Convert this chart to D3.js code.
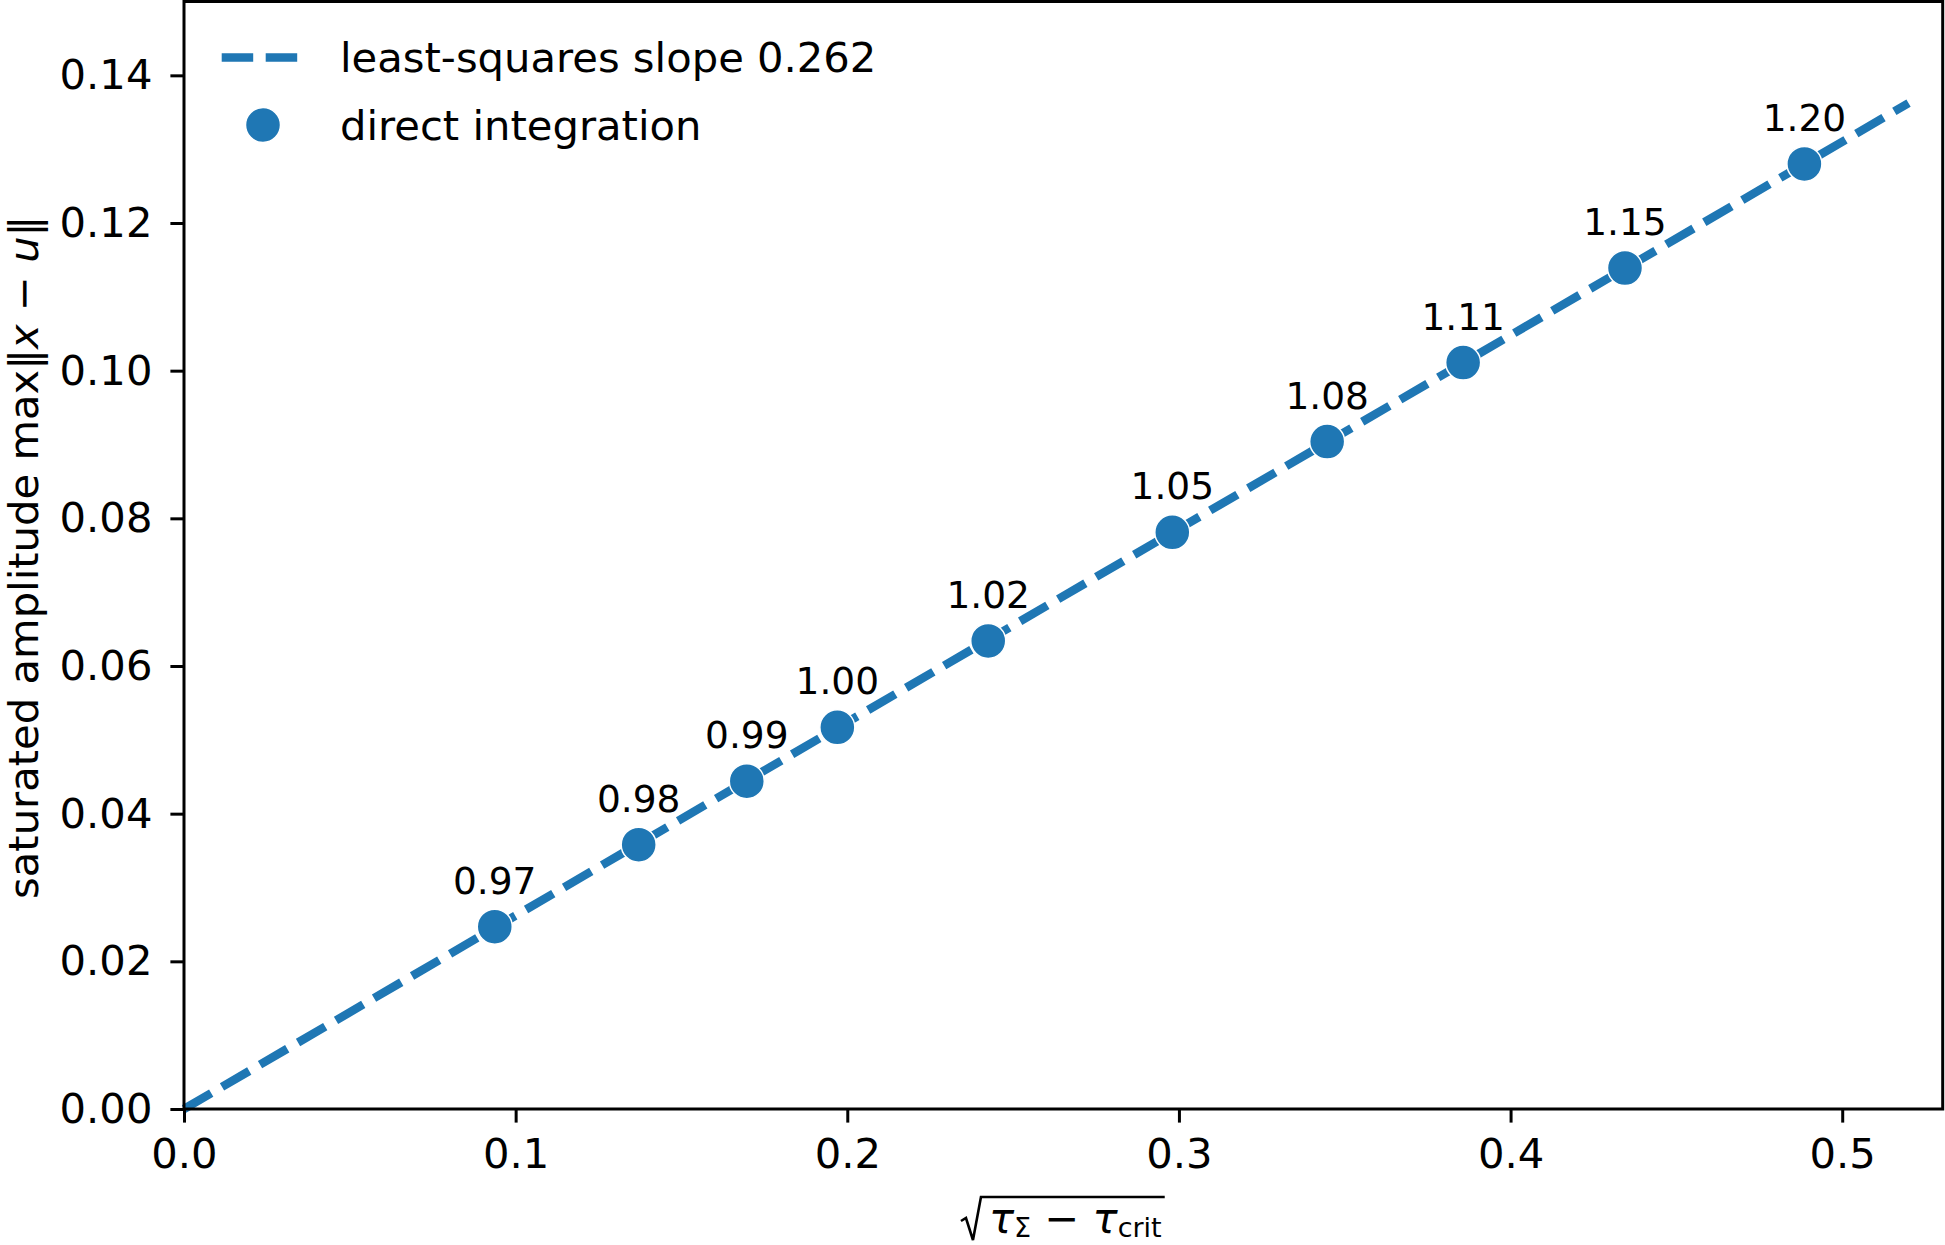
<!DOCTYPE html>
<html>
<head>
<meta charset="utf-8">
<script src="https://cdn.jsdelivr.net/npm/d3@7"></script>
<style>
  html, body { margin: 0; padding: 0; background: #fff; }
  svg { display: block; }
  text { font-family: "DejaVu Sans", sans-serif; fill: #000; }
</style>
</head>
<body>
<svg id="chart" width="1945" height="1245"></svg>
<script>
// ---- data ----
const tauLabels = ["0.97", "0.98", "0.99", "1.00", "1.02", "1.05", "1.08", "1.11", "1.15", "1.20"];
const xValues = [0.0937, 0.1371, 0.1697, 0.1970, 0.2425, 0.2980, 0.3447, 0.3857, 0.4345, 0.4886];
const yValues = [0.0247, 0.0358, 0.0444, 0.0517, 0.0634, 0.0781, 0.0904, 0.1011, 0.1139, 0.1280];
const fitSlope = 0.262;
const fitX = [0, 0.520];
const xTicks = [0.0, 0.1, 0.2, 0.3, 0.4, 0.5];
const yTicks = [0.00, 0.02, 0.04, 0.06, 0.08, 0.10, 0.12, 0.14];
const xDomain = [0, 0.5303];
const yDomain = [0, 0.15];
const legendLabels = ["least-squares slope 0.262", "direct integration"];

// ---- layout ----
const L = 184, R = 1942.7, T = 1.5, B = 1109;
const color = "#1f77b4";
const FS = 41.7;
const svg = d3.select("#chart");

const x = d3.scaleLinear().domain(xDomain).range([L, R]);
const y = d3.scaleLinear().domain(yDomain).range([B, T]);

// fit line
const lineData = fitX.map(v => [v, v * fitSlope]);
svg.append("path")
  .datum(lineData)
  .attr("d", d3.line().x(d => x(d[0])).y(d => y(d[1])))
  .attr("fill", "none")
  .attr("stroke", color)
  .attr("stroke-width", 8.5)
  .attr("stroke-dasharray", "31.5,12.5")
  .attr("stroke-linecap", "butt");

// points
const pts = xValues.map((v, i) => ({x: v, y: yValues[i], label: tauLabels[i]}));
svg.append("g").selectAll("circle").data(pts).join("circle")
  .attr("cx", d => x(d.x))
  .attr("cy", d => y(d.y))
  .attr("r", 17.5)
  .attr("fill", color)
  .attr("stroke", "#fff")
  .attr("stroke-width", 1.5);

svg.append("g").selectAll("text").data(pts).join("text")
  .attr("x", d => x(d.x))
  .attr("y", d => y(d.y) - 33)
  .attr("text-anchor", "middle")
  .attr("font-size", 37.5)
  .text(d => d.label);

// axes
const xAxis = d3.axisBottom(x).tickValues(xTicks).tickFormat(d3.format(".1f"))
  .tickSizeInner(13.6).tickSizeOuter(0).tickPadding(15.8);
const gx = svg.append("g").attr("transform", `translate(0,${B})`).call(xAxis);
gx.select(".domain").remove();
gx.selectAll(".tick line").attr("stroke", "#000").attr("stroke-width", 3);
gx.selectAll(".tick text").attr("font-size", FS).attr("font-family", "DejaVu Sans").attr("fill", "#000");

const yAxis = d3.axisLeft(y).tickValues(yTicks).tickFormat(d3.format(".2f"))
  .tickSizeInner(13.6).tickSizeOuter(0).tickPadding(18);
const gy = svg.append("g").attr("transform", `translate(${L},0)`).call(yAxis);
gy.select(".domain").remove();
gy.selectAll(".tick line").attr("stroke", "#000").attr("stroke-width", 3);
gy.selectAll(".tick text").attr("font-size", FS).attr("font-family", "DejaVu Sans").attr("fill", "#000");

// frame
svg.append("rect")
  .attr("x", L).attr("y", T).attr("width", R - L).attr("height", B - T)
  .attr("fill", "none").attr("stroke", "#000").attr("stroke-width", 3);

// legend
const lg = svg.append("g");
lg.append("line")
  .attr("x1", 221.7).attr("x2", 298).attr("y1", 57.5).attr("y2", 57.5)
  .attr("stroke", color).attr("stroke-width", 8.5)
  .attr("stroke-dasharray", "31.5,12.5");
lg.append("circle").attr("cx", 263).attr("cy", 125).attr("r", 17.5)
  .attr("fill", color).attr("stroke", "#fff").attr("stroke-width", 1.5);
lg.append("text").attr("x", 340).attr("y", 72).attr("font-size", FS).text(legendLabels[0]);
lg.append("text").attr("x", 340).attr("y", 140).attr("font-size", FS).text(legendLabels[1]);

// y label
const yl = svg.append("text")
  .attr("transform", `translate(38,${(T + B) / 2 + 2}) rotate(-90)`)
  .attr("text-anchor", "middle")
  .attr("font-size", FS);
yl.append("tspan").text("saturated amplitude max‖");
yl.append("tspan").attr("font-style", "italic").text("x");
yl.append("tspan").text(" − ");
yl.append("tspan").attr("font-style", "italic").text("u");
yl.append("tspan").text("‖");

// x label: sqrt(tau_Sigma - tau_crit)
const xlG = svg.append("g");
const xl = xlG.append("text")
  .attr("x", 993).attr("y", 1233)
  .attr("font-size", FS);
xl.append("tspan").attr("font-style", "italic").text("τ");
xl.append("tspan").attr("font-size", 27).attr("dy", 4).text("Σ");
xl.append("tspan").attr("dy", -4).text(" − ");
xl.append("tspan").attr("font-style", "italic").text("τ");
xl.append("tspan").attr("font-size", 27).attr("dy", 4).text("crit");
const bb = xl.node().getBBox();
const cx = (L + R) / 2;
const shift = cx + 12 - (bb.x + bb.width / 2);
xl.attr("x", 993 + shift);
const bb2 = xl.node().getBBox();
const rx0 = bb2.x - 8;
const rx1 = bb2.x + bb2.width + 3;
xlG.append("path")
  .attr("d", `M ${rx0 - 20} 1221 L ${rx0 - 15} 1218 L ${rx0 - 8} 1240 L ${rx0} 1197 L ${rx1} 1197`)
  .attr("fill", "none").attr("stroke", "#000").attr("stroke-width", 2.6)
  .attr("stroke-linejoin", "miter");
</script>
</body>
</html>
